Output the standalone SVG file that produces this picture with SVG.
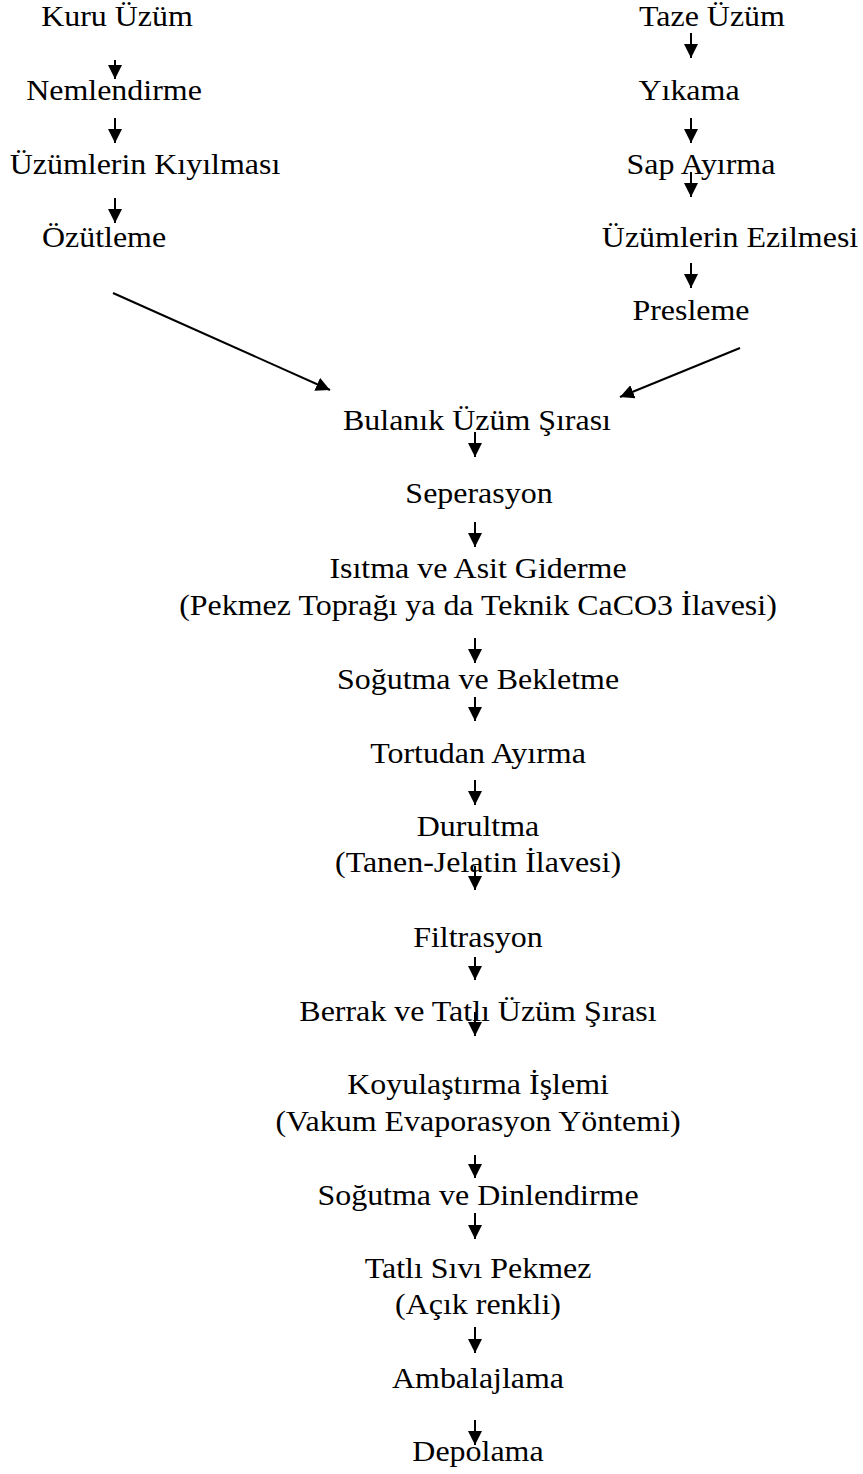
<svg xmlns="http://www.w3.org/2000/svg" width="863" height="1474" viewBox="0 0 863 1474">
<style>
text{font-family:"Liberation Serif","Times New Roman",serif;font-size:30px;fill:#000;text-anchor:middle}
.c line{stroke:#000;stroke-width:2;marker-end:url(#ah)}
</style>
<defs>
<marker id="ah" markerUnits="userSpaceOnUse" markerWidth="14" markerHeight="14" refX="14" refY="7" viewBox="0 0 14 14" orient="auto">
<path d="M0,0 L14,7 L0,14 z" fill="#000"/>
</marker>
</defs>
<rect width="863" height="1474" fill="#fff"/>
<g id="n-kuru"><text transform="translate(117 26) scale(1.065 1)">Kuru Üzüm</text></g>
<g id="n-nemlendirme"><text transform="translate(114 100) scale(1.065 1)">Nemlendirme</text></g>
<g id="n-kiyilmasi"><text transform="translate(145 174) scale(1.065 1)">Üzümlerin Kıyılması</text></g>
<g id="n-ozutleme"><text transform="translate(104 247) scale(1.065 1)">Özütleme</text></g>
<g id="n-taze"><text transform="translate(712 26) scale(1.065 1)">Taze Üzüm</text></g>
<g id="n-yikama"><text transform="translate(689 100) scale(1.065 1)">Yıkama</text></g>
<g id="n-sap"><text transform="translate(701 174) scale(1.065 1)">Sap Ayırma</text></g>
<g id="n-ezilmesi"><text transform="translate(730 247) scale(1.065 1)">Üzümlerin Ezilmesi</text></g>
<g id="n-presleme"><text transform="translate(691 320) scale(1.065 1)">Presleme</text></g>
<g id="n-bulanik"><text transform="translate(477 430) scale(1.065 1)">Bulanık Üzüm Şırası</text></g>
<g id="n-seperasyon"><text transform="translate(479 503) scale(1.065 1)">Seperasyon</text></g>
<g id="n-isitma"><text transform="translate(478 578) scale(1.065 1)">Isıtma ve Asit Giderme</text><text transform="translate(478 615) scale(1.065 1)">(Pekmez Toprağı ya da Teknik CaCO3 İlavesi)</text></g>
<g id="n-sogutma1"><text transform="translate(478 689) scale(1.065 1)">Soğutma ve Bekletme</text></g>
<g id="n-tortu"><text transform="translate(478 763) scale(1.065 1)">Tortudan Ayırma</text></g>
<g id="n-durultma"><text transform="translate(478 836) scale(1.065 1)">Durultma</text><text transform="translate(478 872) scale(1.065 1)">(Tanen-Jelatin İlavesi)</text></g>
<g id="n-filtrasyon"><text transform="translate(478 947) scale(1.065 1)">Filtrasyon</text></g>
<g id="n-berrak"><text transform="translate(478 1021) scale(1.065 1)">Berrak ve Tatlı Üzüm Şırası</text></g>
<g id="n-koyulastirma"><text transform="translate(478 1094) scale(1.065 1)">Koyulaştırma İşlemi</text><text transform="translate(478 1131) scale(1.065 1)">(Vakum Evaporasyon Yöntemi)</text></g>
<g id="n-sogutma2"><text transform="translate(478 1205) scale(1.065 1)">Soğutma ve Dinlendirme</text></g>
<g id="n-tatli"><text transform="translate(478 1278) scale(1.065 1)">Tatlı Sıvı Pekmez</text><text transform="translate(478 1314) scale(1.065 1)">(Açık renkli)</text></g>
<g id="n-ambalaj"><text transform="translate(478 1388) scale(1.065 1)">Ambalajlama</text></g>
<g id="n-depolama"><text transform="translate(478 1461) scale(1.065 1)">Depolama</text></g>
<g id="connectors" class="c">
<line x1="115" y1="60" x2="115" y2="79"/>
<line x1="115" y1="118" x2="115" y2="143"/>
<line x1="115" y1="198" x2="115" y2="223"/>
<line x1="691" y1="33" x2="691" y2="58"/>
<line x1="691" y1="118" x2="691" y2="143"/>
<line x1="691" y1="172" x2="691" y2="197"/>
<line x1="691" y1="263" x2="691" y2="288"/>
<line x1="113" y1="293" x2="330" y2="390"/>
<line x1="740" y1="348" x2="620" y2="397"/>
<line x1="475" y1="432" x2="475" y2="457"/>
<line x1="475" y1="522" x2="475" y2="547"/>
<line x1="475" y1="638" x2="475" y2="663"/>
<line x1="475" y1="697" x2="475" y2="721"/>
<line x1="475" y1="780" x2="475" y2="805"/>
<line x1="475" y1="866" x2="475" y2="890"/>
<line x1="475" y1="957" x2="475" y2="980"/>
<line x1="475" y1="1012" x2="475" y2="1036"/>
<line x1="475" y1="1155" x2="475" y2="1178"/>
<line x1="475" y1="1213" x2="475" y2="1239"/>
<line x1="475" y1="1327" x2="475" y2="1353"/>
<line x1="475" y1="1420" x2="475" y2="1445"/>
</g>
</svg>
